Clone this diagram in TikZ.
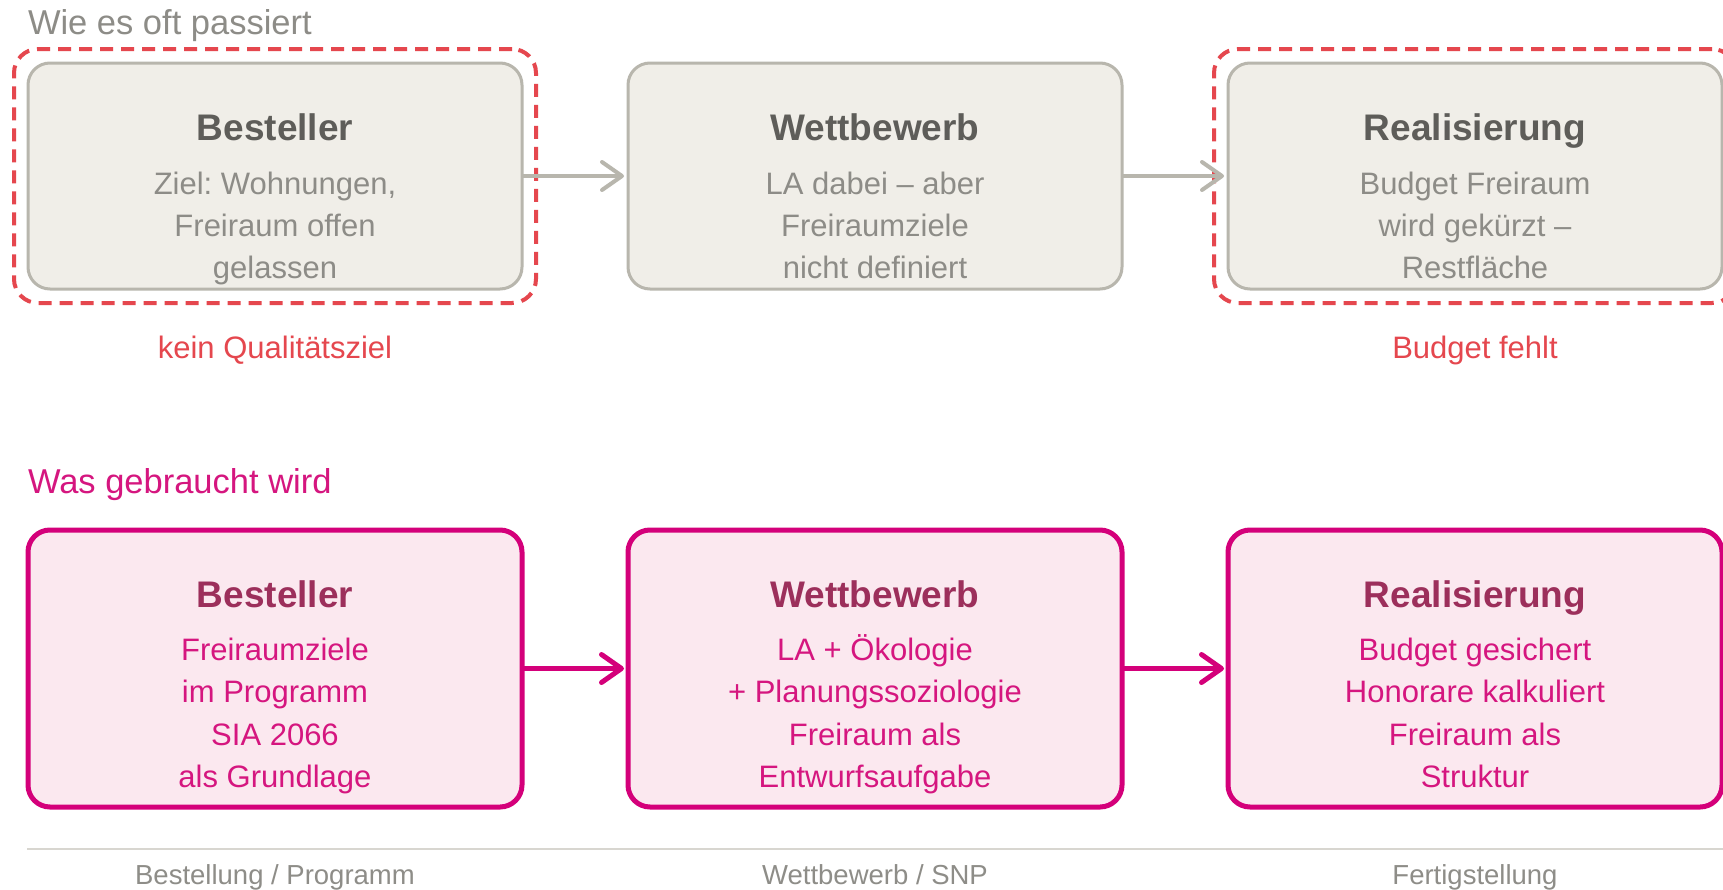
\documentclass[tikz,border=0pt]{standalone}
\usepackage{fontspec}
\setmainfont{Liberation Sans}
\usetikzlibrary{arrows.meta,fit}
\frenchspacing
\definecolor{grayfill}{HTML}{F0EEE8}
\definecolor{grayedge}{HTML}{B8B6AD}
\definecolor{graytitle}{HTML}{5E5D59}
\definecolor{graytext}{HTML}{8D8C87}
\definecolor{redline}{HTML}{E5474E}
\definecolor{pinkfill}{HTML}{FBE8EF}
\definecolor{pinkedge}{HTML}{D4007A}
\definecolor{pinktitle}{HTML}{9C2F5B}
\definecolor{pinktext}{HTML}{D5167F}
\definecolor{rulegray}{HTML}{D8D6D0}
\definecolor{labelgray}{HTML}{8E8D88}
\tikzset{
  every node/.style={inner sep=0pt, outer sep=0pt},
  graybox/.style={draw=grayedge, line width=3pt, fill=grayfill, rounded corners=22pt,
    minimum width=494pt, minimum height=226pt},
  pinkbox/.style={draw=pinkedge, line width=5pt, fill=pinkfill, rounded corners=22pt,
    minimum width=494pt, minimum height=277pt},
  reddash/.style={draw=redline, line width=4pt, dash pattern=on 13pt off 8pt, rounded corners=24pt},
  heading/.style={anchor=base west, font=\fontsize{34.5}{40}\selectfont},
  titlegray/.style={anchor=base, text=graytitle, font=\fontsize{37}{44}\selectfont\bfseries},
  titlepink/.style={anchor=base, text=pinktitle, font=\fontsize{37}{44}\selectfont\bfseries},
  bodygray/.style={anchor=base, text=graytext, font=\fontsize{31}{42}\selectfont},
  bodypink/.style={anchor=base, text=pinktext, font=\fontsize{31}{42}\selectfont},
  warn/.style={anchor=base, text=redline, font=\fontsize{31}{42}\selectfont},
  phase/.style={anchor=base, text=labelgray, font=\fontsize{27.5}{33}\selectfont},
  grayarrow/.style={draw=grayedge, line width=4pt, shorten >=4pt,
    -{Straight Barb[length=20pt,width=28pt,round]}},
  pinkarrow/.style={draw=pinkedge, line width=5pt, shorten >=4pt,
    -{Straight Barb[length=20pt,width=28pt,round]}},
  rule/.style={draw=rulegray, line width=2pt}
}
\begin{document}
\begin{tikzpicture}[x=1pt,y=-1pt]
\useasboundingbox (0,0) rectangle (1723,889);
\fill[white] (0,0) rectangle (1723,889);

% ---------- top row ----------
\node[heading, text=graytext] (h1) at (28,34) {Wie es oft passiert};

\node[graybox] (g1) at (275,176) {};
\node[graybox] (g2) at (875,176) {};
\node[graybox] (g3) at (1475,176) {};

\node[reddash, fit=(g1), inner sep=14pt] (d1) {};
\node[reddash, fit=(g3), inner sep=14pt] (d3) {};

\draw[grayarrow] (g1.east) -- (g2.west);
\draw[grayarrow] (g2.east) -- (g3.west);

\node[titlegray] (g1t) at (275,140) {Besteller};
\node[bodygray] (g1a) at (275,194) {Ziel: Wohnungen,};
\node[bodygray] (g1b) at (275,236) {Freiraum offen};
\node[bodygray] (g1c) at (275,278) {gelassen};

\node[titlegray] (g2t) at (875,140) {Wettbewerb};
\node[bodygray] (g2a) at (875,194) {LA dabei – aber};
\node[bodygray] (g2b) at (875,236) {Freiraumziele};
\node[bodygray] (g2c) at (875,278) {nicht definiert};

\node[titlegray] (g3t) at (1475,140) {Realisierung};
\node[bodygray] (g3a) at (1475,194) {Budget Freiraum};
\node[bodygray] (g3b) at (1475,236) {wird gekürzt –};
\node[bodygray] (g3c) at (1475,278) {Restfläche};

\node[warn] (w1) at (275,358) {kein Qualitätsziel};
\node[warn] (w3) at (1475,358) {Budget fehlt};

% ---------- bottom row ----------
\node[heading, text=pinktext] (h2) at (28,493) {Was gebraucht wird};

\node[pinkbox] (p1) at (275,668.5) {};
\node[pinkbox] (p2) at (875,668.5) {};
\node[pinkbox] (p3) at (1475,668.5) {};

\draw[pinkarrow] (p1.east) -- (p2.west);
\draw[pinkarrow] (p2.east) -- (p3.west);

\node[titlepink] (p1t) at (275,607) {Besteller};
\node[bodypink] (p1a) at (275,660) {Freiraumziele};
\node[bodypink] (p1b) at (275,702) {im Programm};
\node[bodypink] (p1c) at (275,745) {SIA 2066};
\node[bodypink] (p1d) at (275,787) {als Grundlage};

\node[titlepink] (p2t) at (875,607) {Wettbewerb};
\node[bodypink] (p2a) at (875,660) {LA + Ökologie};
\node[bodypink] (p2b) at (875,702) {+ Planungssoziologie};
\node[bodypink] (p2c) at (875,745) {Freiraum als};
\node[bodypink] (p2d) at (875,787) {Entwurfsaufgabe};

\node[titlepink] (p3t) at (1475,607) {Realisierung};
\node[bodypink] (p3a) at (1475,660) {Budget gesichert};
\node[bodypink] (p3b) at (1475,702) {Honorare kalkuliert};
\node[bodypink] (p3c) at (1475,745) {Freiraum als};
\node[bodypink] (p3d) at (1475,787) {Struktur};

% ---------- phase rule ----------
\coordinate (ruleL) at (27,849);
\coordinate (ruleR) at (1723,849);
\draw[rule] (ruleL) -- (ruleR);

\node[phase] (f1) at (275,884) {Bestellung / Programm};
\node[phase] (f2) at (875,884) {Wettbewerb / SNP};
\node[phase] (f3) at (1475,884) {Fertigstellung};
\end{tikzpicture}
\end{document}
